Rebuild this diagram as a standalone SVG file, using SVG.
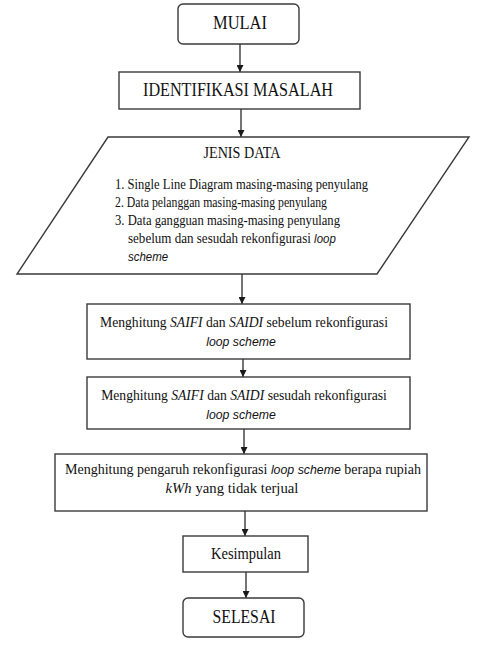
<svg xmlns="http://www.w3.org/2000/svg" width="484" height="650" viewBox="0 0 484 650">
<style>
.box{fill:#fff;stroke:#3a3a3a;stroke-width:1.4}
.t{font-family:"Liberation Serif","Times New Roman",serif;fill:#111}
.c{text-anchor:middle}
.i{font-style:italic}
.s{font-family:"Liberation Sans",Arial,sans-serif;font-style:italic;font-size:0.88em}
.b{font-size:15.5px}
.l{font-size:14.5px}
.ln{stroke:#2a2a2a;stroke-width:1.3;fill:none}
</style>
<defs>
<marker id="ah" viewBox="0 0 8 8" refX="8" refY="4" markerWidth="7" markerHeight="7" markerUnits="userSpaceOnUse" orient="auto">
<path d="M0,0 L8,4 L0,8 z" fill="#1a1a1a"/>
</marker>
</defs>
<rect width="484" height="650" fill="#fff"/>
<g id="connectors">
<line class="ln" x1="240" y1="44" x2="240" y2="72" marker-end="url(#ah)"/>
<line class="ln" x1="241" y1="109" x2="241" y2="137" marker-end="url(#ah)"/>
<line class="ln" x1="242" y1="274" x2="242" y2="304" marker-end="url(#ah)"/>
<line class="ln" x1="243" y1="359" x2="243" y2="377" marker-end="url(#ah)"/>
<line class="ln" x1="244" y1="429" x2="244" y2="454" marker-end="url(#ah)"/>
<line class="ln" x1="245" y1="511" x2="245" y2="536" marker-end="url(#ah)"/>
<line class="ln" x1="246" y1="572" x2="246" y2="598" marker-end="url(#ah)"/>
</g>
<g id="mulai">
<rect class="box" x="178" y="4" width="121" height="40" rx="5"/>
<text class="t c" x="240" y="29" font-size="18" textLength="54" lengthAdjust="spacingAndGlyphs">MULAI</text>
</g>
<g id="identifikasi">
<rect class="box" x="119" y="72" width="241" height="37"/>
<text class="t c" x="238" y="96" font-size="18" textLength="190" lengthAdjust="spacingAndGlyphs">IDENTIFIKASI  MASALAH</text>
</g>
<g id="jenis-data">
<polygon class="box" points="108,137 469,137 377,274 17,274"/>
<text class="t c" x="242" y="158" font-size="16" textLength="77" lengthAdjust="spacingAndGlyphs">JENIS DATA</text>
<text class="t l" x="115" y="189" textLength="253" lengthAdjust="spacingAndGlyphs">1.  Single Line Diagram masing-masing penyulang</text>
<text class="t l" x="115" y="207" textLength="212" lengthAdjust="spacingAndGlyphs">2.  Data pelanggan masing-masing penyulang</text>
<text class="t l" x="115" y="225" textLength="225" lengthAdjust="spacingAndGlyphs">3.  Data gangguan masing-masing  penyulang</text>
<text class="t l" transform="translate(128,243) scale(0.9,1)">sebelum dan sesudah rekonfigurasi <tspan class="s">loop</tspan></text>
<text class="t l" transform="translate(128,261) scale(0.9,1)"><tspan class="s">scheme</tspan></text>
</g>
<g id="saifi-sebelum">
<rect class="box" x="87" y="304" width="323" height="55"/>
<text class="t b c" transform="translate(244,327) scale(0.88,1)">Menghitung <tspan class="i">SAIFI</tspan> dan <tspan class="i">SAIDI</tspan> sebelum rekonfigurasi</text>
<text class="t b c" transform="translate(241,346) scale(0.9,1)"><tspan class="s">loop scheme</tspan></text>
</g>
<g id="saifi-sesudah">
<rect class="box" x="87" y="377" width="323" height="52"/>
<text class="t b c" transform="translate(244,400) scale(0.88,1)">Menghitung <tspan class="i">SAIFI</tspan> dan <tspan class="i">SAIDI</tspan> sesudah rekonfigurasi</text>
<text class="t b c" transform="translate(241,419) scale(0.9,1)"><tspan class="s">loop scheme</tspan></text>
</g>
<g id="pengaruh">
<rect class="box" x="55" y="454" width="372" height="57"/>
<text class="t b c" transform="translate(243,474) scale(0.905,1)">Menghitung pengaruh rekonfigurasi <tspan class="s">loop scheme</tspan> berapa rupiah</text>
<text class="t b c" transform="translate(232,493) scale(0.95,1)"><tspan class="i">kWh</tspan> yang tidak terjual</text>
</g>
<g id="kesimpulan">
<rect class="box" x="183" y="536" width="125" height="36"/>
<text class="t c" x="246" y="559" font-size="16" textLength="70" lengthAdjust="spacingAndGlyphs">Kesimpulan</text>
</g>
<g id="selesai">
<rect class="box" x="183" y="598" width="121" height="39" rx="5"/>
<text class="t c" x="244" y="623" font-size="18" textLength="63" lengthAdjust="spacingAndGlyphs">SELESAI</text>
</g>
</svg>
